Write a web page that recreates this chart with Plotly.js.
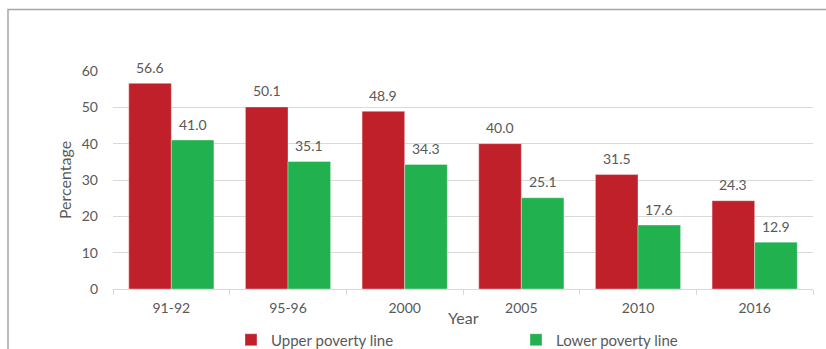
<!DOCTYPE html>
<html>
<head>
<meta charset="utf-8">
<script src="https://cdn.plot.ly/plotly-3.0.1.min.js"></script>
<style>
  html, body { margin: 0; padding: 0; background: #ffffff; }
  #chart { width: 826px; height: 349px; }
</style>
</head>
<body>
<div id="chart"></div>
<script>
// Poverty headcount rates by survey year
const years = ['91-92', '95-96', '2000', '2005', '2010', '2016'];
const upperLine = [56.6, 50.1, 48.9, 40.0, 31.5, 24.3];
const lowerLine = [41.0, 35.1, 34.3, 25.1, 17.6, 12.9];
const seriesNames = ['Upper poverty line', 'Lower poverty line'];
const seriesColors = ['#C0202A', '#22B14F'];
const yTicks = [0, 10, 20, 30, 40, 50, 60];

const W = 826, H = 349;
const M = { l: 113, r: 13, t: 71, b: 60, autoexpand: false };
const plotW = W - M.l - M.r, plotH = H - M.t - M.b;
// pixel -> paper coordinate helpers for the frame and legend placement
const px = x => (x - M.l) / plotW;
const py = y => (H - M.b - y) / plotH;

const FAMILY = 'Lato, "Open Sans", sans-serif';
const GREY = '#595959';
const font = size => ({ family: FAMILY, size: size, color: GREY });

const BARGAP = 0.27;
const barWidth = (1 - BARGAP) / 2;   // width of one bar in category units

function barTrace(values, i) {
  return {
    type: 'bar',
    name: seriesNames[i],
    x: years,
    y: values,
    marker: { color: seriesColors[i], line: { color: 'rgba(255,255,255,0.35)', width: 1 } },
    hoverinfo: 'x+y+name'
  };
}

const data = [barTrace(upperLine, 0), barTrace(lowerLine, 1)];

// value labels above each bar, read from the same series arrays
const valueLabels = [];
[upperLine, lowerLine].forEach((values, s) => {
  const offset = (s === 0 ? -0.5 : 0.5) * barWidth;
  values.forEach((v, i) => {
    valueLabels.push({
      x: i + offset, y: v,
      xref: 'x', yref: 'y',
      text: v.toFixed(1),
      showarrow: false,
      xanchor: 'center', yanchor: 'middle',
      yshift: 16,
      font: font(14)
    });
  });
});

const layout = {
  width: W,
  height: H,
  margin: M,
  paper_bgcolor: '#ffffff',
  plot_bgcolor: '#ffffff',
  font: font(14),
  barmode: 'group',
  bargap: BARGAP,
  bargroupgap: 0,
  showlegend: true,
  legend: {
    orientation: 'h',
    x: px(231),
    xanchor: 'left',
    y: py(340),
    yanchor: 'middle',
    entrywidthmode: 'pixels',
    entrywidth: 240,
    font: font(15),
    itemwidth: 30,
    bgcolor: 'rgba(0,0,0,0)'
  },
  xaxis: {
    type: 'category',
    showline: true,
    linecolor: '#d9d9d9',
    linewidth: 1,
    ticks: 'outside',
    tickson: 'boundaries',
    ticklen: 5,
    tickcolor: '#d9d9d9',
    tickfont: font(14),
    ticklabelstandoff: 6,
    showgrid: false,
    zeroline: false,
    automargin: false,
    fixedrange: true
  },
  yaxis: {
    range: [0, 60],
    tickvals: yTicks,
    ticktext: yTicks.map(String),
    showline: false,
    ticks: '',
    showgrid: true,
    gridcolor: '#d9d9d9',
    gridwidth: 1,
    zeroline: false,
    tickfont: font(14),
    ticklabelstandoff: 14,
    title: { text: 'Percentage', font: font(16), standoff: 6 },
    automargin: false,
    fixedrange: true
  },
  annotations: valueLabels.concat([{
    text: 'Year',
    xref: 'paper', yref: 'paper',
    x: 0.5, y: py(317),
    xanchor: 'center', yanchor: 'middle',
    showarrow: false,
    font: font(16)
  }]),
  shapes: [{
    type: 'rect',
    xref: 'paper', yref: 'paper',
    x0: px(8), x1: px(834),
    y0: py(9.5), y1: py(356),
    line: { color: '#a6a6a6', width: 1.5 },
    fillcolor: 'rgba(0,0,0,0)',
    layer: 'below'
  }]
};

Plotly.newPlot('chart', data, layout, { displayModeBar: false, staticPlot: true });
</script>
</body>
</html>
